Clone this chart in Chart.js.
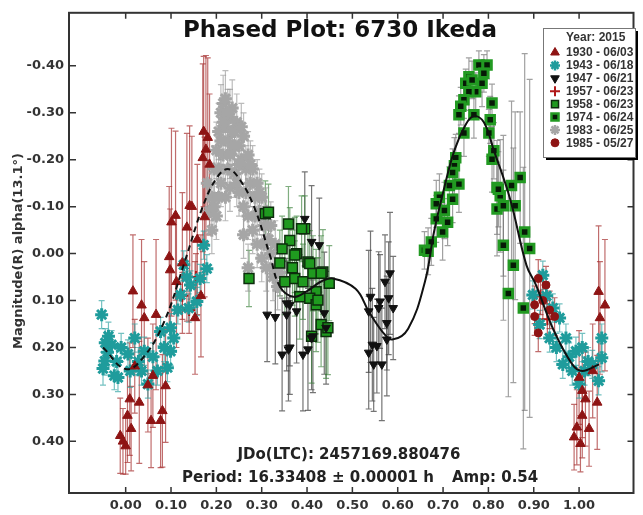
<!DOCTYPE html>
<html lang="en">
<head>
    <meta charset="UTF-8">
    <title>Phased Plot: 6730 Ikeda</title>
    <style>
        body {
            margin: 0;
            padding: 0;
            background: #ffffff;
        }
        #wrap {
            width: 643px;
            height: 515px;
        }
    </style>
    <script src="https://cdn.jsdelivr.net/npm/chart.js"></script>
</head>
<body>
    <div id="wrap">
        <canvas id="phase-chart" width="643" height="515"></canvas>
    </div>

    <script>
        // tick values on the axes
        const xTicks = [0, 0.1, 0.2, 0.3, 0.4, 0.5, 0.6, 0.7, 0.8, 0.9, 1.0];
        const yTicks = [-0.4, -0.3, -0.2, -0.1, 0, 0.1, 0.2, 0.3, 0.4];

        // each point: [phase, magnitude, error]
        const s1930 = [
            [-0.012, 0.388, 0.08], [-0.006, 0.40, 0.07], [0.004, 0.345, 0.10], [0.009, 0.31, 0.12],
            [0.012, 0.373, 0.09], [0.0, 0.41, 0.06], [0.016, 0.08, 0.12], [0.03, 0.317, 0.13],
            [0.035, 0.11, 0.14], [0.041, 0.137, 0.12], [0.049, 0.28, 0.10], [0.056, 0.356, 0.10],
            [0.067, 0.13, 0.16], [0.077, 0.356, 0.10], [0.081, 0.335, 0.12], [0.088, 0.282, 0.12],
            [0.096, 0.007, 0.15], [0.098, 0.035, 0.13], [0.101, -0.067, 0.20], [0.11, -0.081, 0.18],
            [0.112, 0.06, 0.14], [0.135, -0.056, 0.20], [0.141, -0.102, 0.17], [0.146, -0.10, 0.15],
            [0.153, 0.137, 0.12], [0.17, -0.204, 0.20], [0.172, -0.26, 0.16], [0.174, -0.078, 0.17],
            [0.177, -0.222, 0.20], [0.181, -0.247, 0.17], [0.166, 0.09, 0.13], [0.125, 0.02, 0.15],
            [0.06, 0.26, 0.11], [0.02, 0.24, 0.10], [0.158, -0.03, 0.16], [0.185, -0.19, 0.15],
            [0.989, 0.391, 0.07], [1.003, 0.405, 0.06], [0.995, 0.37, 0.08], [1.0, 0.264, 0.10],
            [1.007, 0.292, 0.10], [1.007, 0.345, 0.09], [1.014, 0.31, 0.10], [1.022, 0.373, 0.08],
            [1.04, 0.317, 0.10], [1.043, 0.081, 0.14], [1.046, 0.137, 0.12], [1.057, 0.11, 0.14],
            [1.03, 0.25, 0.10]
        ];
        const s1943 = [
            [-0.053, 0.13, 0.03], [-0.046, 0.229, 0.03], [-0.05, 0.245, 0.035], [-0.038, 0.176, 0.03],
            [-0.031, 0.194, 0.03], [-0.04, 0.21, 0.03], [-0.025, 0.26, 0.03], [-0.017, 0.264, 0.03],
            [-0.01, 0.20, 0.03], [0.005, 0.214, 0.03], [0.01, 0.25, 0.035], [0.02, 0.18, 0.03],
            [0.028, 0.23, 0.03], [0.041, 0.208, 0.03], [0.049, 0.278, 0.03], [0.06, 0.22, 0.03],
            [0.07, 0.25, 0.03], [0.077, 0.166, 0.03], [0.085, 0.20, 0.03], [0.092, 0.243, 0.03],
            [0.099, 0.208, 0.03], [0.106, 0.18, 0.03], [0.099, 0.158, 0.03], [0.121, 0.088, 0.03],
            [0.128, 0.024, 0.03], [0.139, 0.116, 0.03], [0.143, 0.067, 0.03], [0.157, 0.102, 0.03],
            [0.164, 0.053, 0.03], [0.179, 0.032, 0.03], [0.172, -0.018, 0.03], [0.115, 0.12, 0.03],
            [-0.045, 0.19, 0.03], [-0.02, 0.23, 0.03], [0.035, 0.25, 0.03], [0.135, 0.05, 0.03],
            [0.898, 0.088, 0.03], [0.913, 0.151, 0.03], [0.92, 0.046, 0.03], [0.935, 0.18, 0.03],
            [0.942, 0.116, 0.03], [0.957, 0.137, 0.03], [0.964, 0.236, 0.03], [0.971, 0.18, 0.03],
            [0.985, 0.25, 0.03], [0.993, 0.208, 0.03], [1.0, 0.278, 0.03], [1.007, 0.20, 0.03],
            [1.02, 0.23, 0.03], [1.029, 0.236, 0.03], [1.043, 0.271, 0.03], [1.05, 0.222, 0.03],
            [1.05, 0.18, 0.03], [0.95, 0.20, 0.03], [0.928, 0.09, 0.03], [0.978, 0.22, 0.03],
            [1.012, 0.25, 0.03]
        ];
        const s1947 = [
            [0.312, 0.13, 0.10], [0.355, 0.13, 0.12], [0.362, 0.109, 0.13], [0.377, 0.123, 0.11],
            [0.359, 0.204, 0.11], [0.391, 0.215, 0.12], [0.402, 0.204, 0.13], [0.413, 0.176, 0.12],
            [0.427, -0.018, 0.10], [0.395, -0.074, 0.10], [0.41, -0.025, 0.12], [0.438, 0.127, 0.13],
            [0.442, 0.158, 0.12], [0.355, 0.106, 0.09], [0.362, 0.20, 0.10], [0.41, 0.18, 0.11],
            [0.33, 0.135, 0.10], [0.345, 0.215, 0.12],
            [0.54, 0.092, 0.14], [0.536, 0.123, 0.13], [0.558, 0.116, 0.12], [0.561, 0.102, 0.10],
            [0.544, 0.194, 0.12], [0.554, 0.197, 0.10], [0.536, 0.211, 0.12], [0.547, 0.236, 0.10],
            [0.565, 0.236, 0.12], [0.583, 0.042, 0.13], [0.572, 0.06, 0.10], [0.58, 0.095, 0.12],
            [0.59, 0.116, 0.11], [0.576, 0.148, 0.10], [0.576, 0.183, 0.12]
        ];
        const s1957 = [
            [0.125, 0.09, 0.05], [0.14, 0.12, 0.05], [0.155, 0.05, 0.05], [0.915, 0.09, 0.04], [0.93, 0.14, 0.04]
        ];
        const s1958 = [
            [0.272, 0.053, 0.06], [0.308, -0.085, 0.07], [0.315, -0.088, 0.06], [0.359, -0.063, 0.08],
            [0.362, -0.028, 0.07], [0.377, 0.0, 0.08], [0.351, 0.06, 0.07], [0.373, 0.053, 0.08],
            [0.391, 0.06, 0.08], [0.384, 0.092, 0.09], [0.413, 0.042, 0.08], [0.435, 0.039, 0.09],
            [0.449, 0.063, 0.08], [0.42, 0.081, 0.09], [0.406, 0.095, 0.08], [0.42, 0.109, 0.10],
            [0.442, 0.166, 0.10], [0.431, 0.151, 0.09], [0.41, 0.176, 0.10], [0.395, -0.053, 0.07],
            [0.402, 0.018, 0.08], [0.388, -0.053, 0.07], [0.373, 0.003, 0.08], [0.406, 0.021, 0.07],
            [0.431, 0.042, 0.08], [0.424, 0.099, 0.09], [0.446, 0.158, 0.10], [0.34, 0.02, 0.07],
            [0.345, -0.01, 0.07], [0.368, 0.03, 0.08]
        ];
        const s1974 = [
            [0.779, -0.402, 0.03], [0.797, -0.402, 0.03], [0.79, -0.384, 0.04], [0.757, -0.377, 0.04],
            [0.75, -0.363, 0.03], [0.764, -0.37, 0.04], [0.786, -0.363, 0.05], [0.772, -0.345, 0.04],
            [0.757, -0.345, 0.04], [0.746, -0.328, 0.04], [0.739, -0.314, 0.04], [0.735, -0.296, 0.04],
            [0.768, -0.296, 0.05], [0.808, -0.321, 0.04], [0.804, -0.285, 0.05], [0.801, -0.257, 0.05],
            [0.746, -0.257, 0.05], [0.812, -0.219, 0.06], [0.808, -0.201, 0.07], [0.728, -0.204, 0.05],
            [0.725, -0.187, 0.06], [0.721, -0.173, 0.05], [0.735, -0.148, 0.06], [0.714, -0.145, 0.04],
            [0.721, -0.116, 0.05], [0.692, -0.12, 0.05], [0.685, -0.106, 0.05], [0.703, -0.092, 0.06],
            [0.71, -0.067, 0.05], [0.685, -0.074, 0.05], [0.699, -0.046, 0.06], [0.674, -0.025, 0.05],
            [0.659, -0.007, 0.04], [0.667, -0.005, 0.05],
            [0.819, -0.141, 0.10], [0.826, -0.123, 0.12], [0.851, -0.145, 0.18], [0.87, -0.162, 0.14],
            [0.819, -0.095, 0.10], [0.833, -0.102, 0.15], [0.859, -0.102, 0.20], [0.833, -0.018, 0.16],
            [0.855, 0.025, 0.25], [0.88, -0.046, 0.38], [0.891, -0.011, 0.36], [0.844, 0.085, 0.22],
            [0.877, 0.116, 0.30], [0.822, -0.137, 0.08]
        ];
        const s1983 = [
            [0.18, -0.15, 0.05], [0.185, -0.09, 0.05], [0.19, -0.12, 0.05], [0.195, -0.18, 0.05],
            [0.2, -0.22, 0.06], [0.2, -0.08, 0.05], [0.205, -0.26, 0.06], [0.21, -0.30, 0.06],
            [0.21, -0.15, 0.05], [0.215, -0.32, 0.06], [0.215, -0.21, 0.05], [0.22, -0.27, 0.06],
            [0.22, -0.12, 0.05], [0.22, -0.33, 0.06], [0.225, -0.24, 0.05], [0.225, -0.18, 0.05],
            [0.23, -0.29, 0.06], [0.23, -0.14, 0.05], [0.235, -0.31, 0.06], [0.235, -0.22, 0.05],
            [0.24, -0.26, 0.05], [0.24, -0.17, 0.05], [0.245, -0.28, 0.06], [0.25, -0.23, 0.05],
            [0.25, -0.13, 0.05], [0.255, -0.20, 0.05], [0.26, -0.25, 0.05], [0.26, -0.10, 0.05],
            [0.265, -0.18, 0.05], [0.27, -0.21, 0.05], [0.27, -0.08, 0.05], [0.275, -0.15, 0.05],
            [0.28, -0.18, 0.05], [0.28, -0.05, 0.05], [0.285, -0.12, 0.05], [0.29, -0.15, 0.05],
            [0.29, -0.02, 0.05], [0.295, -0.09, 0.05], [0.3, -0.12, 0.05], [0.3, 0.01, 0.05],
            [0.305, -0.06, 0.05], [0.31, -0.09, 0.05], [0.31, 0.03, 0.05], [0.315, -0.03, 0.05],
            [0.32, 0.0, 0.05], [0.325, 0.05, 0.05], [0.33, -0.02, 0.05], [0.335, 0.07, 0.05],
            [0.34, 0.04, 0.05], [0.27, 0.03, 0.05], [0.26, -0.04, 0.05],
            [0.19, -0.05, 0.05], [0.195, -0.10, 0.05], [0.205, -0.12, 0.05], [0.205, -0.18, 0.05],
            [0.21, -0.24, 0.05], [0.215, -0.28, 0.05], [0.225, -0.30, 0.05], [0.23, -0.21, 0.05],
            [0.24, -0.23, 0.05], [0.245, -0.15, 0.05], [0.25, -0.19, 0.05], [0.255, -0.27, 0.05],
            [0.265, -0.13, 0.05], [0.275, -0.19, 0.05], [0.285, -0.08, 0.05], [0.295, -0.13, 0.05],
            [0.305, -0.02, 0.05], [0.32, -0.06, 0.05], [0.33, 0.03, 0.05], [0.235, -0.26, 0.05]
        ];
        const s1985 = [
            [0.91, 0.053, 0.04], [0.902, 0.109, 0.04], [0.902, 0.134, 0.04], [0.91, 0.169, 0.04],
            [0.927, 0.067, 0.04], [0.946, 0.134, 0.04], [0.92, 0.10, 0.04], [0.935, 0.12, 0.04]
        ];

        // fitted Fourier curve
        const fitPhase = [-0.05, 0.0, 0.04, 0.085, 0.13, 0.17, 0.2, 0.225, 0.25, 0.283, 0.318, 0.34, 0.37, 0.40, 0.43, 0.457,
            0.507, 0.536, 0.566, 0.588, 0.623, 0.66, 0.68, 0.70, 0.725, 0.75, 0.768, 0.79, 0.812, 0.848, 0.884, 0.905,
            0.942, 0.985, 1.007, 1.044];
        const fitMag = [0.20, 0.246, 0.22, 0.145, 0.018, -0.10, -0.16, -0.18, -0.16, -0.10, 0.003, 0.07, 0.092, 0.08, 0.06, 0.053,
            0.075, 0.123, 0.166, 0.183, 0.16, 0.06, -0.046, -0.13, -0.22, -0.275, -0.293, -0.28, -0.22, -0.116, 0.025, 0.067,
            0.159, 0.236, 0.25, 0.236];

        const legendTitle = 'Year: 2015';
        const legendLabels = ['1930 - 06/03', '1943 - 06/18', '1947 - 06/21', '1957 - 06/23',
            '1958 - 06/23', '1974 - 06/24', '1983 - 06/25', '1985 - 05/27'];

        const toPoints = s => s.map(p => ({ x: p[0], y: p[1], err: p[2] }));

        // draw vertical error bars behind the markers
        const errorBars = {
            id: 'errorBars',
            beforeDatasetsDraw(chart) {
                const ctx = chart.ctx, xs = chart.scales.x, ys = chart.scales.y, a = chart.chartArea;
                ctx.save();
                ctx.beginPath();
                ctx.rect(a.left, a.top, a.right - a.left, a.bottom - a.top);
                ctx.clip();
                ctx.lineWidth = 1.2;
                chart.data.datasets.forEach(ds => {
                    if (!ds.errColor) return;
                    ctx.strokeStyle = ds.errColor;
                    ds.data.forEach(p => {
                        const px = xs.getPixelForValue(p.x);
                        const y1 = ys.getPixelForValue(p.y - p.err);
                        const y2 = ys.getPixelForValue(p.y + p.err);
                        ctx.beginPath();
                        ctx.moveTo(px, y1); ctx.lineTo(px, y2);
                        ctx.moveTo(px - 3, y1); ctx.lineTo(px + 3, y1);
                        ctx.moveTo(px - 3, y2); ctx.lineTo(px + 3, y2);
                        ctx.stroke();
                    });
                });
                ctx.restore();
            }
        };

        // frame, inward ticks, texts and the boxed legend
        const decorations = {
            id: 'decorations',
            afterDatasetsDraw(chart) {
                const ctx = chart.ctx, xs = chart.scales.x, ys = chart.scales.y, a = chart.chartArea;
                ctx.save();
                ctx.strokeStyle = '#333';
                ctx.lineWidth = 2;
                ctx.strokeRect(a.left, a.top, a.right - a.left, a.bottom - a.top);

                ctx.lineWidth = 1.5;
                ctx.beginPath();
                xTicks.forEach(v => {
                    const px = xs.getPixelForValue(v);
                    ctx.moveTo(px, a.bottom); ctx.lineTo(px, a.bottom - 6);
                    ctx.moveTo(px, a.top); ctx.lineTo(px, a.top + 6);
                });
                yTicks.forEach(v => {
                    const py = ys.getPixelForValue(v);
                    ctx.moveTo(a.left, py); ctx.lineTo(a.left + 7, py);
                    ctx.moveTo(a.right, py); ctx.lineTo(a.right - 6, py);
                });
                ctx.stroke();

                // title and fit info
                ctx.fillStyle = '#111';
                ctx.textBaseline = 'middle';
                ctx.textAlign = 'center';
                ctx.font = 'bold 23px "DejaVu Sans"';
                ctx.fillText('Phased Plot: 6730 Ikeda', 340, 31);
                ctx.font = 'bold 15px "DejaVu Sans"';
                ctx.fillStyle = '#222';
                ctx.fillText('JDo(LTC): 2457169.880476', 349, 455);
                ctx.textAlign = 'left';
                ctx.fillText('Period: 16.33408 \u00b1 0.00001 h', 182, 478);
                ctx.fillText('Amp: 0.54', 452, 478);

                // y axis title
                ctx.save();
                ctx.translate(19, 251);
                ctx.rotate(-Math.PI / 2);
                ctx.textAlign = 'center';
                ctx.font = 'bold 13px "DejaVu Sans"';
                ctx.fillStyle = '#333';
                ctx.fillText('Magnitude(R) alpha(13.1\u00b0)', 0, 0);
                ctx.restore();

                // legend box
                const bx = 543, by = 28, bw = 92, bh = 129;
                ctx.fillStyle = '#000';
                ctx.fillRect(bx + 3, by + 3, bw, bh);
                ctx.fillStyle = '#fff';
                ctx.fillRect(bx, by, bw, bh);
                ctx.strokeStyle = '#777';
                ctx.lineWidth = 1;
                ctx.strokeRect(bx + 0.5, by + 0.5, bw, bh);

                ctx.fillStyle = '#333';
                ctx.font = 'bold 12px "Liberation Sans", Arial, sans-serif';
                ctx.textAlign = 'left';
                ctx.fillText(legendTitle, 566, 38);
                const pointSets = chart.data.datasets.filter(d => d.errColor);
                legendLabels.forEach((lab, i) => {
                    const ds = pointSets[i];
                    const ly = 52.5 + i * 12.9;
                    ctx.fillStyle = ds.backgroundColor;
                    ctx.strokeStyle = ds.borderColor;
                    ctx.lineWidth = Math.min(ds.borderWidth, 2.5);
                    Chart.helpers.drawPoint(ctx, {
                        pointStyle: ds.pointStyle,
                        rotation: ds.rotation || 0,
                        radius: Math.min(ds.pointRadius, 5),
                        borderWidth: ds.borderWidth
                    }, 555, ly);
                    ctx.fillStyle = '#333';
                    ctx.fillText(lab, 566, ly + 0.5);
                });
                ctx.restore();
            }
        };

        const datasets = [
            {
                label: 'fit', type: 'line', showLine: true, order: 0,
                data: fitPhase.map((p, i) => ({ x: p, y: fitMag[i] })),
                borderColor: '#111', borderWidth: 2, pointRadius: 0, tension: 0.4,
                segment: { borderDash: c => c.p0.parsed.x < 0.33 ? [6, 4] : undefined }
            },
            {
                label: legendLabels[0], data: toPoints(s1930), order: 3,
                pointStyle: 'triangle', pointRadius: 5.5, borderWidth: 1,
                backgroundColor: '#8e1414', borderColor: '#8e1414', errColor: 'rgba(165,45,45,0.7)'
            },
            {
                label: legendLabels[1], data: toPoints(s1943), order: 4,
                pointStyle: 'star', pointRadius: 6.5, borderWidth: 3,
                backgroundColor: '#1f9c9c', borderColor: '#1f9c9c', errColor: 'rgba(40,160,160,0.65)'
            },
            {
                label: legendLabels[2], data: toPoints(s1947), order: 2,
                pointStyle: 'triangle', rotation: 180, pointRadius: 5, borderWidth: 1,
                backgroundColor: '#111', borderColor: '#111', errColor: 'rgba(70,70,70,0.75)'
            },
            {
                label: legendLabels[3], data: toPoints(s1957), order: 5,
                pointStyle: 'cross', pointRadius: 6, borderWidth: 2,
                backgroundColor: '#b01818', borderColor: '#b01818', errColor: 'rgba(165,45,45,0.7)'
            },
            {
                label: legendLabels[4], data: toPoints(s1958), order: 2,
                pointStyle: 'rect', pointRadius: 7, borderWidth: 1.5,
                backgroundColor: '#1f9a1f', borderColor: '#0d2d0d', errColor: 'rgba(60,130,60,0.65)'
            },
            {
                label: legendLabels[5], data: toPoints(s1974), order: 1,
                pointStyle: 'rect', pointRadius: 6, borderWidth: 3,
                backgroundColor: '#061a06', borderColor: '#229a22', errColor: 'rgba(110,110,110,0.65)'
            },
            {
                label: legendLabels[6], data: toPoints(s1983), order: 6,
                pointStyle: 'star', pointRadius: 6.5, borderWidth: 3,
                backgroundColor: '#a6a6a6', borderColor: '#a6a6a6', errColor: 'rgba(150,150,150,0.65)'
            },
            {
                label: legendLabels[7], data: toPoints(s1985), order: 3,
                pointStyle: 'circle', pointRadius: 4, borderWidth: 1,
                backgroundColor: '#8e1414', borderColor: '#8e1414', errColor: 'rgba(165,45,45,0.7)'
            }
        ];

        const ctx = document.getElementById('phase-chart').getContext('2d');
        new Chart(ctx, {
            type: 'scatter',
            data: { datasets: datasets },
            plugins: [errorBars, decorations],
            options: {
                responsive: false,
                animation: false,
                devicePixelRatio: 1,
                layout: { padding: { top: 9, right: 1, left: 0, bottom: 0 } },
                plugins: {
                    legend: { display: false },
                    tooltip: { enabled: false }
                },
                scales: {
                    x: {
                        type: 'linear',
                        min: -0.125,
                        max: 1.12,
                        grid: { display: false, drawTicks: false },
                        border: { display: false },
                        afterBuildTicks: s => { s.ticks = xTicks.map(v => ({ value: v })); },
                        afterFit: s => { s.height = 22; },
                        ticks: {
                            padding: 5,
                            color: '#333',
                            font: { family: 'DejaVu Sans', weight: 'bold', size: 13 },
                            callback: v => v.toFixed(2)
                        }
                    },
                    y: {
                        type: 'linear',
                        reverse: true,
                        min: -0.513,
                        max: 0.51,
                        grid: { display: false, drawTicks: false },
                        border: { display: false },
                        afterBuildTicks: s => { s.ticks = yTicks.map(v => ({ value: v })); },
                        afterFit: s => { s.width = 69; },
                        ticks: {
                            padding: 5,
                            color: '#333',
                            font: { family: 'DejaVu Sans', weight: 'bold', size: 13 },
                            callback: v => v.toFixed(2)
                        }
                    }
                }
            }
        });
    </script>
</body>
</html>
